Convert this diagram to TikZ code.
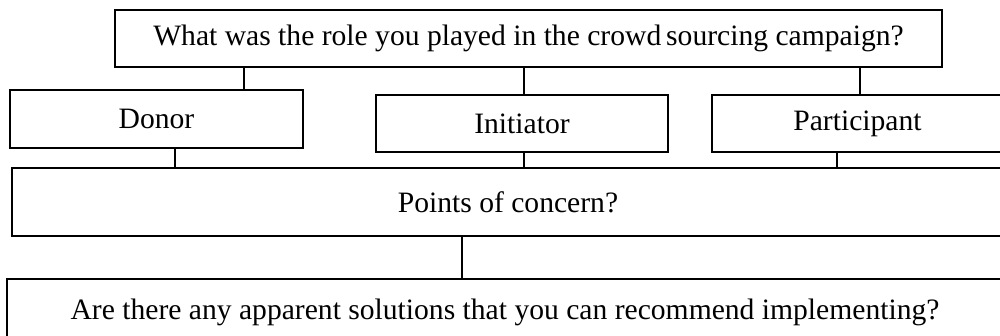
\documentclass[tikz,border=0pt]{standalone}
\usepackage{fontspec}
\setmainfont{Liberation Serif}
\begin{document}
\begin{tikzpicture}[x=1pt,y=-1pt,
  box/.style={draw=black,line width=1.8pt,rectangle,inner sep=0pt,
    font=\fontsize{29.6}{34}\selectfont},
  link/.style={draw=black,line width=1.8pt}]
\useasboundingbox (0,0) rectangle (1000,335);
\clip (0,0) rectangle (1000,335);
\node[box,minimum width=827pt,minimum height=57pt] (top) at (528.5,38.5) {What was the role you played in the crowd\,sourcing campaign?};
\node[box,minimum width=293pt,minimum height=58pt] (donor) at (156.5,119) {Donor};
\node[box,minimum width=292pt,minimum height=57pt] (init) at (522,123.5) {Initiator};
\node[box,minimum width=291pt,minimum height=57pt] (part) at (857.5,123.5) {Participant};
\node[box,minimum width=992pt,minimum height=68pt] (points) at (508,202) {Points of concern?};
\node[box,minimum width=996pt,minimum height=67pt] (sol) at (505,312.5) {Are there any apparent solutions that you can recommend implementing?};
\draw[link] (top.south -| 244,0) -- (donor.north -| 244,0);
\draw[link] (top.south -| 524,0) -- (init.north -| 524,0);
\draw[link] (top.south -| 860,0) -- (part.north -| 860,0);
\draw[link] (donor.south -| 175,0) -- (points.north -| 175,0);
\draw[link] (init.south -| 524,0) -- (points.north -| 524,0);
\draw[link] (part.south -| 837,0) -- (points.north -| 837,0);
\draw[link] (points.south -| 462,0) -- (sol.north -| 462,0);
\end{tikzpicture}
\end{document}
